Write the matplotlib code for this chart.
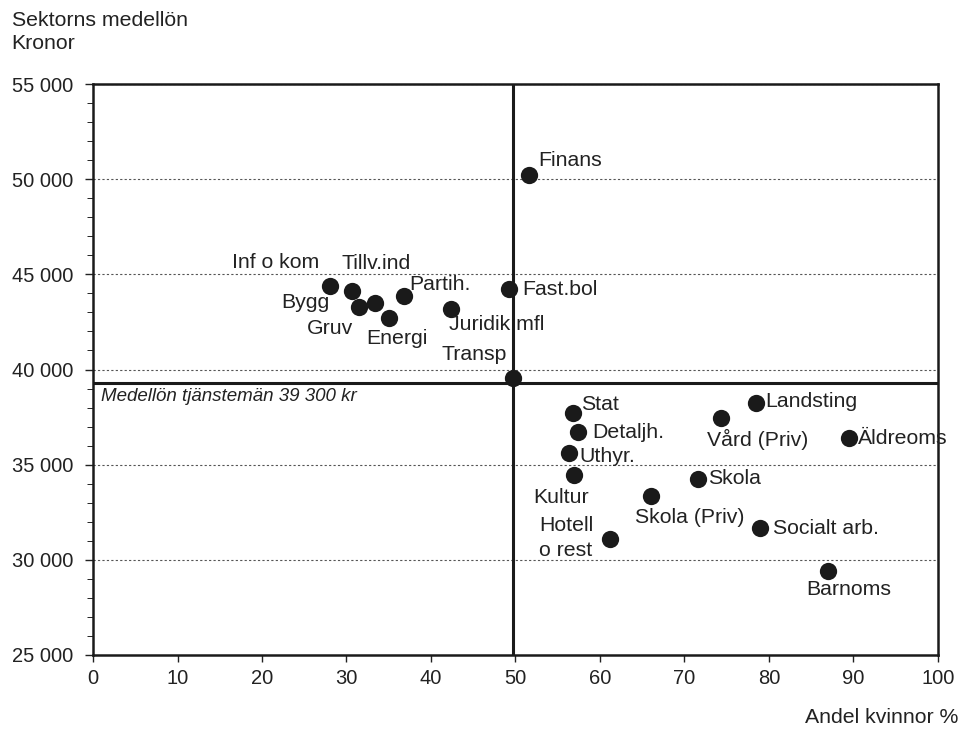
import matplotlib.pyplot as plt
from matplotlib.ticker import FuncFormatter, MultipleLocator

plt.rcParams["font.family"] = ["Liberation Sans", "DejaVu Sans"]

sectors = ["Finans", "Inf o kom", "Tillv.ind", "Bygg", "Gruv", "Energi", "Partih.",
           "Juridik mfl", "Fast.bol", "Transp", "Stat", "Detaljh.", "Uthyr.", "Kultur",
           "Hotell\no rest", "Skola (Priv)", "Skola", "Vård (Priv)", "Landsting",
           "Äldreoms", "Socialt arb.", "Barnoms"]
share_women = [51.6, 28.1, 30.6, 31.5, 33.4, 35.0, 36.8, 42.4, 49.2, 49.7, 56.8, 57.4,
               56.3, 56.9, 61.2, 66.0, 71.6, 74.3, 78.5, 89.5, 78.9, 87.0]
mean_wage = [50200, 44400, 44100, 43300, 43500, 42700, 43850, 43200, 44250, 39550, 37700,
             36700, 35600, 34450, 31100, 33350, 34250, 37450, 38250, 36400, 31650, 29400]
avg_wage = 39300
avg_share = 49.7

# label placement: (dx, dy) in pixels, horizontal alignment
label_pos = {
    "Finans": (9, 15, "left"), "Inf o kom": (-11, 23, "right"), "Tillv.ind": (-10, 28, "left"),
    "Bygg": (-30, 4, "right"), "Gruv": (-45, -26, "center"), "Energi": (-22, -20, "left"),
    "Partih.": (5, 12, "left"), "Juridik mfl": (-2, -16, "left"), "Fast.bol": (14, -1, "left"),
    "Transp": (-6, 24, "right"), "Stat": (8, 9, "left"), "Detaljh.": (14, 0, "left"),
    "Uthyr.": (11, -3, "left"), "Kultur": (-13, -22, "center"), "Hotell\no rest": (-17, 1, "right"),
    "Skola (Priv)": (39, -21, "center"), "Skola": (10, 0, "left"), "Vård (Priv)": (37, -21, "center"),
    "Landsting": (9, 1, "left"), "Äldreoms": (9, 0, "left"), "Socialt arb.": (13, 0, "left"),
    "Barnoms": (21, -18, "center"),
}

fs = 15.3
fig = plt.figure(figsize=(9.61, 7.31), dpi=100)
ax = fig.add_axes([0.0968, 0.104, 0.8792, 0.781])

ax.set_xlim(0, 100)
ax.set_ylim(25000, 55000)
for y in range(30000, 55001, 5000):
    ax.axhline(y, color="#555555", lw=0.8, ls=(0, (2, 2)), zorder=1)
ax.axhline(avg_wage, color="#1a1a1a", lw=2.2, zorder=2)
ax.axvline(avg_share, color="#1a1a1a", lw=2.2, zorder=2)

ax.scatter(share_women, mean_wage, s=155, color="#1a1a1a", zorder=3, linewidths=0)
for name, x, y in zip(sectors, share_women, mean_wage):
    dx, dy, ha = label_pos[name]
    ax.annotate(name, (x, y), xytext=(dx, dy), textcoords="offset pixels",
                ha=ha, va="center", fontsize=fs, color="#222222",
                multialignment="left", linespacing=1.35)

ax.text(1, avg_wage - 250, "Medellön tjänstemän 39 300 kr", style="italic",
        fontsize=13.5, va="top", ha="left", color="#222222")

ax.xaxis.set_major_locator(MultipleLocator(10))
ax.yaxis.set_major_locator(MultipleLocator(5000))
ax.yaxis.set_minor_locator(MultipleLocator(1000))
ax.yaxis.set_major_formatter(FuncFormatter(lambda v, p: f"{int(v):,}".replace(",", " ")))
ax.tick_params(axis="both", labelsize=14.5, colors="#222222", direction="out", width=1)
ax.tick_params(axis="y", which="major", length=6, pad=8)
ax.tick_params(axis="y", which="minor", length=4)
ax.tick_params(axis="x", length=5, pad=5)
for s in ax.spines.values():
    s.set_linewidth(1.8)
    s.set_color("#1a1a1a")

fig.text(0.012, 0.972, "Sektorns medellön", fontsize=fs, va="center", color="#222222")
fig.text(0.012, 0.94, "Kronor", fontsize=fs, va="center", color="#222222")
fig.text(0.997, 0.018, "Andel kvinnor %", fontsize=fs, ha="right", va="center", color="#222222")

fig.savefig("out.png", dpi=100)
